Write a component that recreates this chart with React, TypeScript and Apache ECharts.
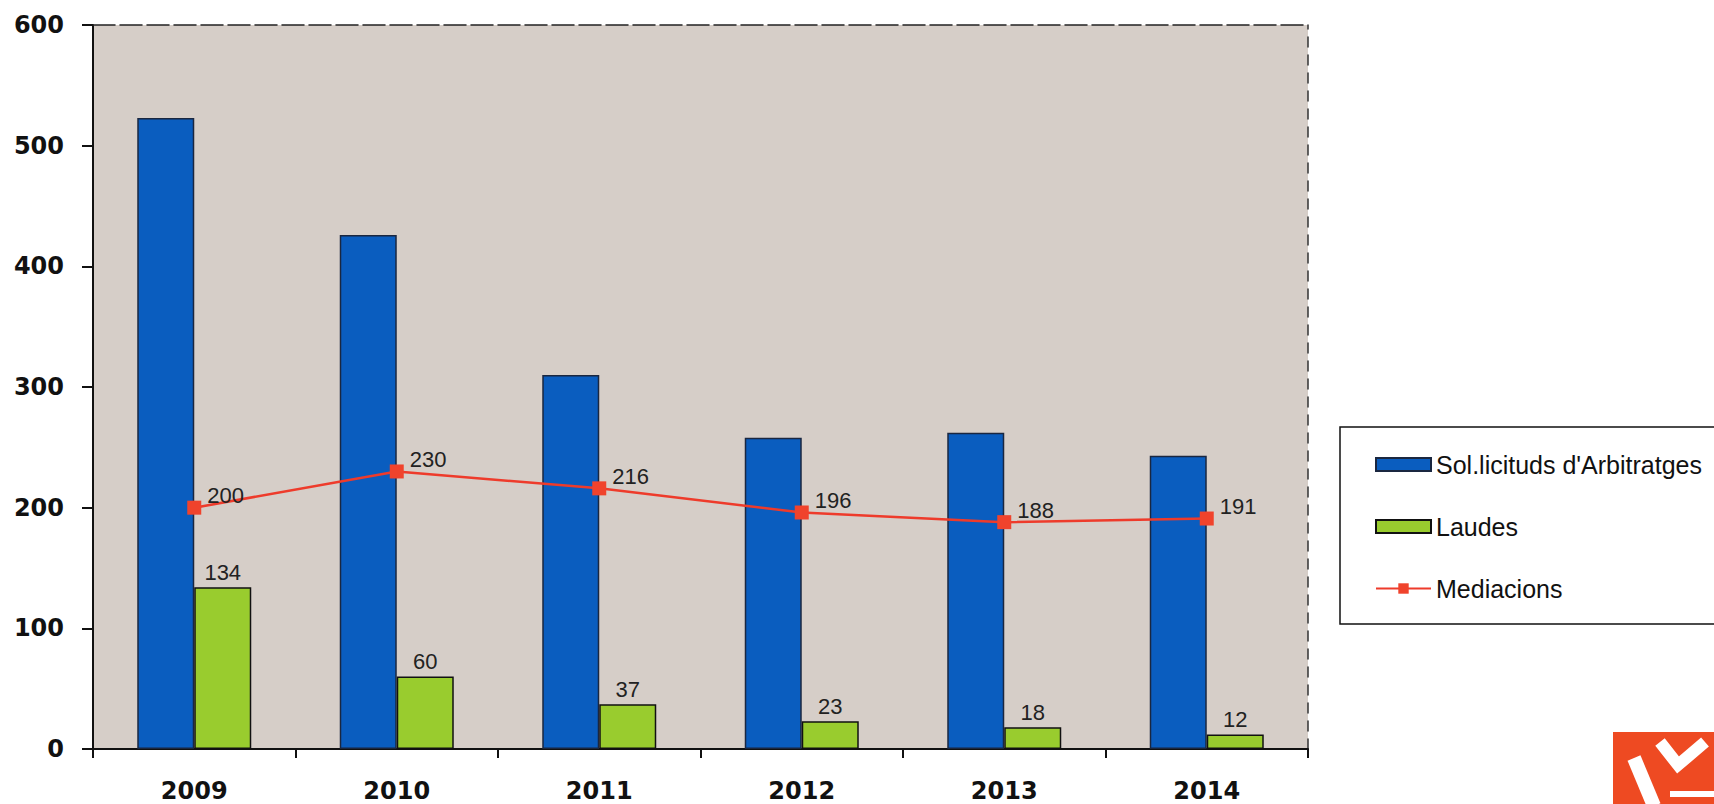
import React, { useEffect, useRef } from "react";
import * as echarts from "echarts";

const years = ["2009", "2010", "2011", "2012", "2013", "2014"];
const solicituds = [523, 426, 310, 258, 262, 243];
const laudes = [134, 60, 37, 23, 18, 12];
const mediacions = [200, 230, 216, 196, 188, 191];
const seriesNames = ["Sol.licituds d'Arbitratges", "Laudes", "Mediacions"];
const yMin = 0;
const yMax = 600;
const yStep = 100;

export default function App() {
  const ref = useRef<HTMLDivElement>(null);
  useEffect(() => {
    if (!ref.current) return;
    const chart = echarts.init(ref.current, null, { renderer: "svg" });
    const axisFont = "DejaVu Sans";
    const textFont = "Liberation Sans";
    chart.setOption({
      animation: false,
      backgroundColor: "#ffffff",
      grid: {
        left: 93,
        right: 406,
        top: 25,
        bottom: 55,
        show: true,
        backgroundColor: "#D6CEC8",
        borderWidth: 0,
      },
      legend: {
        orient: "vertical",
        left: 1340,
        top: 427,
        padding: [25, 60, 23, 35],
        itemGap: 37,
        itemWidth: 55,
        itemHeight: 13,
        borderColor: "#111",
        borderWidth: 1.5,
        backgroundColor: "#ffffff",
        textStyle: { fontFamily: textFont, fontSize: 25, color: "#111", lineHeight: 24, padding: [0, 0, 0, 0] },
        data: [
          { name: seriesNames[0], icon: "rect" },
          { name: seriesNames[1], icon: "rect" },
          { name: seriesNames[2] },
        ],
      },
      xAxis: [
        {
          type: "category",
          data: years,
          boundaryGap: true,
          axisLine: { show: true, lineStyle: { color: "#111", width: 2 } },
          axisTick: { show: true, alignWithLabel: false, interval: 0, length: 9, lineStyle: { color: "#111", width: 2 } },
          axisLabel: { margin: 30, fontFamily: axisFont, fontWeight: "bold", fontSize: 24, color: "#111" },
          splitLine: { show: false },
        },
        {
          type: "category",
          data: years,
          position: "top",
          axisLine: { show: true, onZero: false, lineStyle: { color: "#222", width: 1.5, type: [22, 5] } },
          axisTick: { show: false },
          axisLabel: { show: false },
          splitLine: { show: false },
        },
      ],
      yAxis: [
        {
          type: "value",
          min: yMin,
          max: yMax,
          interval: yStep,
          axisLine: { show: true, lineStyle: { color: "#111", width: 2 } },
          axisTick: { show: true, inside: false, length: 11, lineStyle: { color: "#111", width: 2 } },
          axisLabel: { margin: 29, fontFamily: axisFont, fontWeight: "bold", fontSize: 24, color: "#111" },
          splitLine: { show: false },
        },
        {
          type: "value",
          min: yMin,
          max: yMax,
          interval: yStep,
          position: "right",
          axisLine: { show: true, onZero: false, lineStyle: { color: "#333", width: 1.5, type: [10, 8] } },
          axisTick: { show: false },
          axisLabel: { show: false },
          splitLine: { show: false },
        },
      ],
      series: [
        {
          name: seriesNames[0],
          type: "bar",
          data: solicituds,
          barWidth: 57,
          barGap: "0%",
          itemStyle: { color: "#0A5DBF", borderColor: "#1A2740", borderWidth: 1.5 },
        },
        {
          name: seriesNames[1],
          type: "bar",
          data: laudes,
          barWidth: 57,
          barGap: "0%",
          itemStyle: { color: "#99CC2E", borderColor: "#111", borderWidth: 1.5 },
          label: {
            show: true,
            position: "top",
            distance: 4,
            fontFamily: textFont,
            fontSize: 22,
            color: "#222",
          },
        },
        {
          name: seriesNames[2],
          type: "line",
          data: mediacions,
          symbol: "rect",
          symbolSize: 14,
          lineStyle: { color: "#EE3B2B", width: 2.5 },
          itemStyle: { color: "#F0432C" },
          label: {
            show: true,
            position: "right",
            distance: 6,
            offset: [0, -12],
            fontFamily: textFont,
            fontSize: 22,
            color: "#222",
          },
          z: 5,
        },
      ],
      graphic: [
        {
          type: "group",
          children: [
            { type: "rect", shape: { x: 1613, y: 732, width: 110, height: 80 }, style: { fill: "#EE4A22" } },
            {
              type: "polyline",
              shape: { points: [[1634, 758], [1654, 806]] },
              style: { stroke: "#ffffff", lineWidth: 14, fill: "none" },
            },
            {
              type: "polyline",
              shape: { points: [[1660, 742], [1678, 765], [1705, 742]] },
              style: { stroke: "#ffffff", lineWidth: 12, fill: "none" },
            },
            {
              type: "polyline",
              shape: { points: [[1670, 794], [1720, 794]] },
              style: { stroke: "#ffffff", lineWidth: 6, fill: "none" },
            },
          ],
        },
      ],
    });
    return () => chart.dispose();
  }, []);
  return (
    <div
      ref={ref}
      style={{ position: "fixed", left: 0, top: 0, width: 1714, height: 804, background: "#fff" }}
    />
  );
}
